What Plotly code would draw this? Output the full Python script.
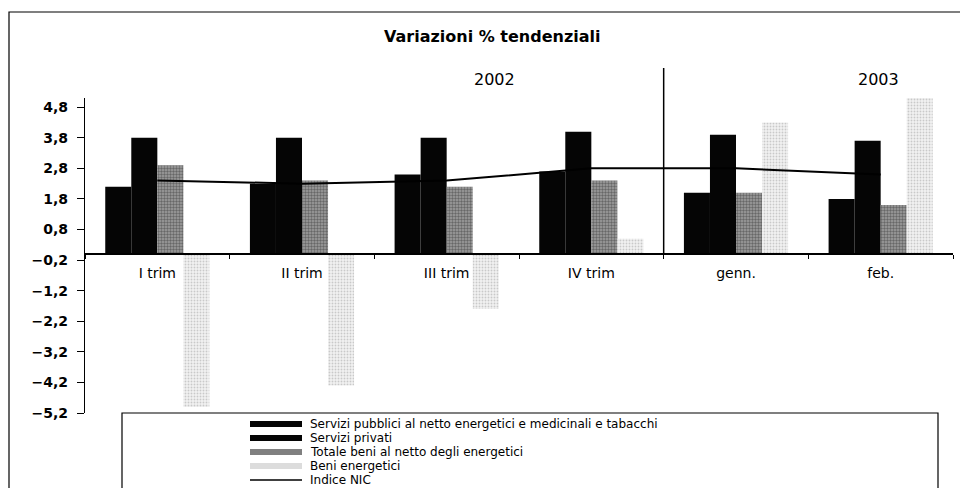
import plotly.graph_objects as go

# Tendential % changes by component
categories = ["I trim", "II trim", "III trim", "IV trim", "genn.", "feb."]
servizi_pubblici = [2.2, 2.3, 2.6, 2.7, 2.0, 1.8]
servizi_privati = [3.8, 3.8, 3.8, 4.0, 3.9, 3.7]
totale_beni = [2.9, 2.4, 2.2, 2.4, 2.0, 1.6]
beni_energetici = [-5.0, -4.3, -1.8, 0.5, 4.3, 5.1]
indice_nic = [2.4, 2.3, 2.4, 2.8, 2.8, 2.6]

series_names = [
    "Servizi pubblici al netto energetici e medicinali e tabacchi",
    "Servizi privati",
    "Totale beni al netto degli energetici",
    "Beni energetici",
    "Indice NIC",
]
year_labels = ["2002", "2003"]
y_ticks = [-5.2, -4.2, -3.2, -2.2, -1.2, -0.2, 0.8, 1.8, 2.8, 3.8, 4.8]

W, H = 960, 488
M_L, M_R, M_T, M_B = 85, 7, 98, 75
Y_MIN, Y_MAX = -5.2, 5.1
FONT = "DejaVu Sans"

plot_w = W - M_L - M_R
plot_h = H - M_T - M_B


def px_x(p):
    """Pixel column -> paper x."""
    return (p - M_L) / plot_w


def px_y(p):
    """Pixel row -> paper y."""
    return (H - M_B - p) / plot_h


zero_pos = (0 - Y_MIN) / (Y_MAX - Y_MIN)

fig = go.Figure()

bar_styles = [
    dict(color="#050505"),
    dict(color="#050505"),
    dict(color="#858585",
         pattern=dict(shape=".", fgcolor="#2e2e2e", bgcolor="#a0a0a0",
                      size=3, solidity=0.5)),
    dict(color="#dedede",
         pattern=dict(shape=".", fgcolor="#a0a0a0", bgcolor="#f2f2f2",
                      size=3, solidity=0.3)),
]
for name, vals, style in zip(series_names[:4],
                             [servizi_pubblici, servizi_privati,
                              totale_beni, beni_energetici],
                             bar_styles):
    fig.add_trace(go.Bar(
        x=categories, y=vals, name=name,
        marker=dict(line=dict(width=0), **style),
        showlegend=False,
    ))

fig.add_trace(go.Scatter(
    x=categories, y=indice_nic, name=series_names[4], mode="lines",
    line=dict(color="#000000", width=2), showlegend=False,
))

shapes = []
# year separator between IV trim and genn.
shapes.append(dict(type="line", xref="x", yref="paper",
                   x0=3.5, x1=3.5, y0=zero_pos, y1=px_y(68),
                   line=dict(color="#000000", width=1.5)))
# outer frame
shapes.append(dict(type="rect", xref="paper", yref="paper",
                   x0=px_x(9), x1=px_x(966), y0=px_y(500), y1=px_y(12),
                   line=dict(color="#000000", width=1.2)))
# legend box
shapes.append(dict(type="rect", xref="paper", yref="paper",
                   x0=px_x(122), x1=px_x(938), y0=px_y(500), y1=px_y(413),
                   line=dict(color="#000000", width=1.2),
                   fillcolor="#ffffff"))

# legend rows
row_y = [424, 438, 452, 466, 480]
swatch_fill = ["#050505", "#050505", "#808080", "#dcdcdc"]
annotations = []
for i, name in enumerate(series_names):
    yc = row_y[i]
    if i < 4:
        shapes.append(dict(type="rect", xref="paper", yref="paper",
                           x0=px_x(250), x1=px_x(302),
                           y0=px_y(yc + 3), y1=px_y(yc - 3),
                           line=dict(width=0), fillcolor=swatch_fill[i]))
    else:
        shapes.append(dict(type="line", xref="paper", yref="paper",
                           x0=px_x(250), x1=px_x(302),
                           y0=px_y(yc), y1=px_y(yc),
                           line=dict(color="#000000", width=1.5)))
    annotations.append(dict(xref="paper", yref="paper", x=px_x(309),
                            y=px_y(yc), text=name, showarrow=False,
                            xanchor="left", yanchor="middle", borderpad=0,
                            font=dict(family=FONT, size=12, color="#000000")))

# title and year labels
annotations.append(dict(xref="paper", yref="paper", x=px_x(492), y=px_y(36),
                        text="<b>Variazioni % tendenziali</b>",
                        showarrow=False, xanchor="center", yanchor="middle",
                        font=dict(family=FONT, size=16, color="#000000")))
for label, xc in zip(year_labels, [494, 878]):
    annotations.append(dict(xref="paper", yref="paper", x=px_x(xc),
                            y=px_y(79), text=label, showarrow=False,
                            xanchor="center", yanchor="middle",
                            font=dict(family=FONT, size=16, color="#000000")))

fig.update_layout(
    width=W, height=H,
    margin=dict(l=M_L, r=M_R, t=M_T, b=M_B, pad=0),
    paper_bgcolor="#ffffff", plot_bgcolor="#ffffff",
    barmode="group", bargap=0.28, bargroupgap=0,
    separators=",.",
    showlegend=False,
    shapes=shapes,
    annotations=annotations,
    xaxis=dict(
        type="category", anchor="free", position=zero_pos,
        showline=True, linecolor="#000000", linewidth=1.5,
        ticks="outside", tickson="boundaries", ticklen=4,
        tickcolor="#000000", showgrid=False, zeroline=False,
        ticklabelstandoff=6,
        tickfont=dict(family=FONT, size=14, color="#000000"),
    ),
    yaxis=dict(
        range=[Y_MIN, Y_MAX], tickvals=y_ticks, tickformat=".1f",
        showline=True, linecolor="#000000", linewidth=1.2,
        ticks="outside", ticklen=7, tickcolor="#000000",
        showgrid=False, zeroline=False, ticklabelstandoff=6,
        tickfont=dict(family=FONT, size=14, color="#000000",
                      weight="bold"),
    ),
)

fig.write_html("out.html")
